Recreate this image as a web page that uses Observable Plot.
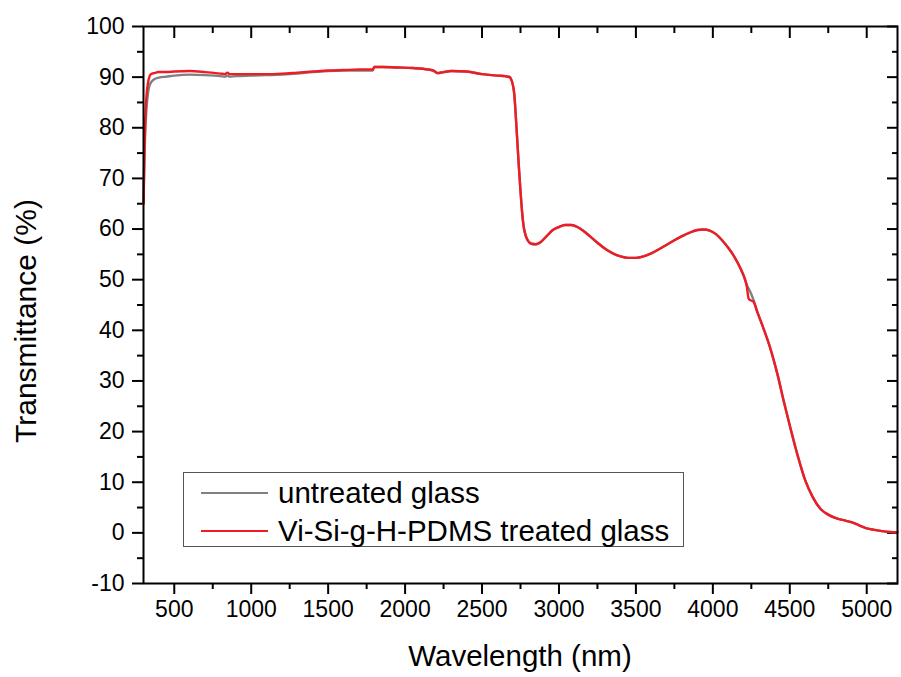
<!DOCTYPE html>
<html><head><meta charset="utf-8">
<script src="https://cdn.jsdelivr.net/npm/d3@7"></script>
<script src="https://cdn.jsdelivr.net/npm/@observablehq/plot@0.6"></script>
<style>
body{margin:0;background:#fff;}
#wrap{position:relative;width:901px;height:677px;font-family:"Liberation Sans",Arial,sans-serif;color:#000;}
.abs{position:absolute;white-space:nowrap;}
</style></head><body><div id="wrap"></div>
<script>
// Series names
const seriesNames = ["untreated glass", "Vi-Si-g-H-PDMS treated glass"];
const seriesColors = ["#808080", "#ee1c24"];

// Untreated glass (gray)
const untreatedWavelength = [300,305,310,320,330,340,350,370,400,450,500,600,700,800,830,845,860,900,1000,1100,1200,1300,1400,1500,1600,1700,1790,1800,1850,1950,2050,2150,2190,2210,2250,2300,2400,2500,2600,2650,2680,2690,2700,2710,2720,2730,2740,2750,2760,2770,2785,2800,2820,2850,2880,2920,2960,3000,3040,3080,3120,3160,3200,3250,3300,3350,3400,3450,3500,3550,3600,3650,3700,3750,3800,3850,3900,3940,3980,4020,4060,4100,4140,4180,4200,4220,4240,4262,4290,4330,4370,4420,4460,4500,4550,4600,4650,4700,4750,4800,4850,4900,4950,5000,5050,5100,5150,5200];
const untreatedT = [65,72,78,84,87,88.4,89.0,89.6,89.9,90.1,90.3,90.5,90.4,90.2,90.1,90.3,90.1,90.2,90.3,90.4,90.5,90.7,91.0,91.2,91.3,91.3,91.3,92.0,92.0,91.9,91.8,91.5,91.2,90.8,91.0,91.2,91.1,90.6,90.3,90.2,90.0,89.5,88.5,86.5,82,77,72,67.5,63.5,60.6,58.6,57.6,57.1,57.0,57.4,58.6,59.8,60.4,60.8,60.8,60.4,59.6,58.6,57.3,56.1,55.2,54.6,54.3,54.3,54.6,55.2,56.0,56.9,57.8,58.6,59.3,59.8,59.9,59.7,59.0,57.8,56.3,54.5,52.2,50.8,49.0,47.8,46.2,43.6,40.3,36.8,31.3,26.1,21.2,15.4,10.4,7.0,4.7,3.6,2.9,2.5,2.1,1.5,0.9,0.6,0.35,0.2,0.15];

// Vi-Si-g-H-PDMS treated glass (red)
const treatedWavelength = [300,305,310,315,320,330,340,350,370,400,450,500,600,700,800,830,845,860,900,1000,1100,1200,1300,1400,1500,1600,1700,1790,1800,1850,1950,2050,2150,2190,2210,2250,2300,2400,2500,2600,2650,2680,2690,2700,2710,2720,2730,2740,2750,2760,2770,2785,2800,2820,2850,2880,2920,2960,3000,3040,3080,3120,3160,3200,3250,3300,3350,3400,3450,3500,3550,3600,3650,3700,3750,3800,3850,3900,3940,3980,4020,4060,4100,4140,4180,4200,4220,4232,4240,4262,4290,4330,4370,4420,4460,4500,4550,4600,4650,4700,4750,4800,4850,4900,4950,5000,5050,5100,5150,5200];
const treatedT = [65,74,80,84,86.5,89,90.2,90.6,90.8,91.0,91.0,91.1,91.2,91.0,90.7,90.6,90.9,90.6,90.6,90.6,90.6,90.7,90.9,91.1,91.3,91.4,91.5,91.5,92.0,92.0,91.9,91.8,91.5,91.2,90.8,91.0,91.2,91.1,90.6,90.3,90.2,90.0,89.5,88.5,86.5,82,77,72,67.5,63.5,60.6,58.6,57.6,57.1,57.0,57.4,58.6,59.8,60.4,60.8,60.8,60.4,59.6,58.6,57.3,56.1,55.2,54.6,54.3,54.3,54.6,55.2,56.0,56.9,57.8,58.6,59.3,59.8,59.9,59.7,59.0,57.8,56.3,54.5,52.2,50.8,48.8,46.3,46.0,45.7,43.5,40.3,36.8,31.3,26.1,21.2,15.4,10.4,7.0,4.7,3.6,2.9,2.5,2.1,1.5,0.9,0.6,0.35,0.2,0.15];

// Axes
const xDomain = [300, 5200];
const yDomain = [-10, 100];
const xMajorTicks = [500,1000,1500,2000,2500,3000,3500,4000,4500,5000];
const xMinorTicks = [750,1250,1750,2250,2750,3250,3750,4250,4750];
const yMajorTicks = [-10,0,10,20,30,40,50,60,70,80,90,100];
const yMinorTicks = [-5,5,15,25,35,45,55,65,75,85,95];
const xTitle = "Wavelength (nm)";
const yTitle = "Transmittance (%)";

const untreated = untreatedWavelength.map((w, i) => ({w, t: untreatedT[i]}));
const treated = treatedWavelength.map((w, i) => ({w, t: treatedT[i]}));
const blank = () => "";
const plain = d => String(d);

const chart = Plot.plot({
  width: 901, height: 677,
  marginLeft: 143, marginRight: 4, marginTop: 26, marginBottom: 94,
  x: {domain: xDomain},
  y: {domain: yDomain},
  style: {fontFamily: "'Liberation Sans', Arial, sans-serif", color: "black", background: "white", overflow: "visible"},
  marks: [
    Plot.axisX(xMajorTicks, {anchor: "bottom", tickSize: 11, tickPadding: 6, fontSize: 23, tickFormat: plain, label: null, strokeWidth: 2}),
    Plot.axisX(xMinorTicks, {anchor: "bottom", tickSize: 6, tickFormat: blank, label: null, strokeWidth: 2}),
    Plot.axisX(xMajorTicks, {anchor: "top", tickSize: -11, tickFormat: blank, label: null, strokeWidth: 2}),
    Plot.axisX(xMinorTicks, {anchor: "top", tickSize: -6, tickFormat: blank, label: null, strokeWidth: 2}),
    Plot.axisY(yMajorTicks, {anchor: "left", tickSize: 11, tickPadding: 8, fontSize: 23, tickFormat: plain, label: null, strokeWidth: 2}),
    Plot.axisY(yMinorTicks, {anchor: "left", tickSize: 6, tickFormat: blank, label: null, strokeWidth: 2}),
    Plot.axisY(yMajorTicks, {anchor: "right", tickSize: -11, tickFormat: blank, label: null, strokeWidth: 2}),
    Plot.axisY(yMinorTicks, {anchor: "right", tickSize: -6, tickFormat: blank, label: null, strokeWidth: 2}),
    Plot.line(untreated, {x: "w", y: "t", stroke: seriesColors[0], strokeWidth: 2.4, curve: "monotone-x"}),
    Plot.line(treated, {x: "w", y: "t", stroke: seriesColors[1], strokeWidth: 2.4, curve: "monotone-x"}),
    Plot.frame({stroke: "black", strokeWidth: 2})
  ]
});

const wrap = document.getElementById("wrap");
wrap.appendChild(chart);

function addDiv(style, text) {
  const d = document.createElement("div");
  d.className = "abs";
  Object.assign(d.style, style);
  if (text != null) d.textContent = text;
  wrap.appendChild(d);
  return d;
}
// Axis titles
addDiv({left: "320px", width: "400px", top: "641px", textAlign: "center", fontSize: "29.5px", lineHeight: "29.5px"}, xTitle);
addDiv({left: (26.3 - 160) + "px", top: (321 - 15) + "px", width: "320px", height: "30px", textAlign: "center", fontSize: "30px", lineHeight: "30px", transform: "rotate(-90deg)"}, yTitle);
// Legend
addDiv({left: "183px", top: "472px", width: "501px", height: "75px", boxSizing: "border-box", border: "1.5px solid #555"});
const rowTops = [478.3, 515.7];
const lineYs = [491.7, 529.5];
seriesNames.forEach((name, i) => {
  addDiv({left: "201px", top: lineYs[i] + "px", width: "67px", height: "2.2px", background: seriesColors[i]});
  addDiv({left: "278px", top: rowTops[i] + "px", fontSize: "29.5px", lineHeight: "29.5px"}, name);
});
</script>
</body></html>
